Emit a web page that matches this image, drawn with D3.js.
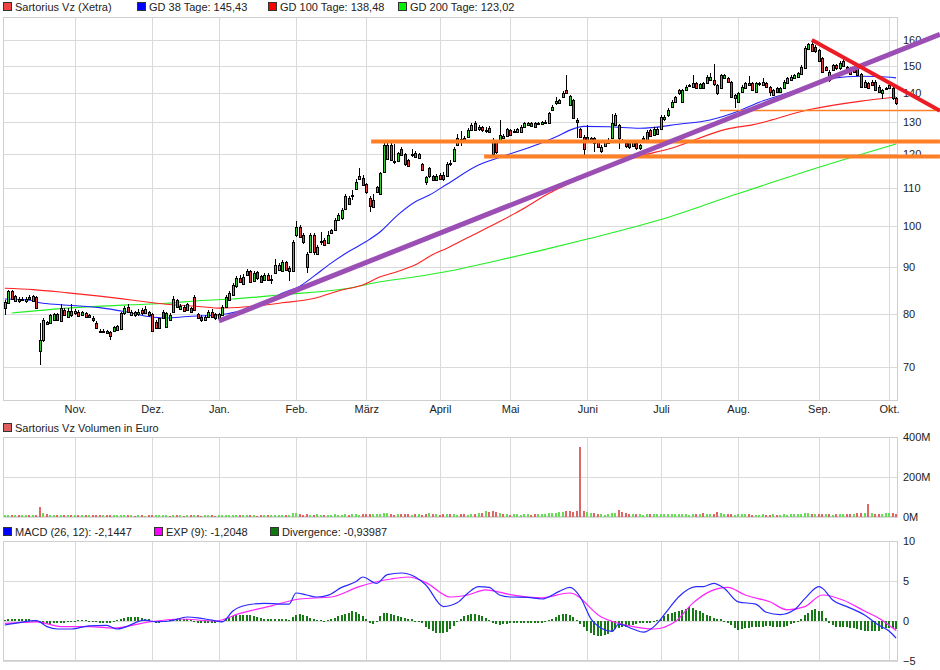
<!DOCTYPE html>
<html><head><meta charset="utf-8">
<script src="https://cdn.jsdelivr.net/npm/d3@7"></script>
<style>
html,body{margin:0;padding:0;background:#fff;}
svg{display:block;font-family:"Liberation Sans",Arial,sans-serif;}
</style></head><body>
<svg id="c" width="940" height="670"></svg>
<script>
// ---------- DATA ----------
const monthLabels = ["Nov.","Dez.","Jan.","Feb.","März","April","Mai","Juni","Juli","Aug.","Sep.","Okt."];
const monthStartIdx = [20,42,61,83,103,124,144,166,187,209,232,252];
const priceTicks = [70,80,90,100,110,120,130,140,150,160];
const volumeTicks = [0,200,400];
const macdTicks = [-5,0,5,10];

const open = [
81.2,82.2,84.7,82.7,83.2,83.0,82.6,83.6,82.6,83.6,
72.8,74.9,78.0,78.3,78.8,80.0,78.7,80.8,79.5,80.7,
80.2,80.4,79.8,80.2,79.8,79.3,78.2,76.7,76.7,76.6,
76.5,76.6,76.9,77.1,80.2,81.5,79.8,80.4,80.0,80.8,
80.2,80.4,80.0,78.5,77.3,80.4,77.5,78.8,80.5,82.9,
81.1,81.5,80.8,81.2,83.6,80.0,79.5,78.8,79.5,80.4,
80.0,79.3,79.8,81.5,82.9,84.0,85.8,87.6,86.4,88.3,
89.1,87.0,88.9,88.0,87.1,88.4,87.3,88.8,89.5,89.3,
91.3,89.3,89.1,97.7,99.8,97.8,90.2,93.7,97.8,93.1,
96.3,96.5,95.7,98.3,98.9,101.5,101.9,104.3,107.4,108.1,
109.8,112.5,113.0,111.1,107.4,104.9,109.0,108.5,114.7,118.4,
122.7,117.4,117.8,121.5,119.8,118.1,119.8,120.1,118.6,116.8,
111.7,115.7,113.3,112.3,113.7,113.7,113.5,117.3,117.9,122.7,
124.5,124.8,125.3,127.4,129.6,127.6,128.3,127.5,128.0,120.0,
123.5,123.8,125.0,125.6,127.4,127.2,126.9,126.9,128.5,129.1,
129.8,129.8,129.6,129.4,130.1,129.8,134.1,136.4,136.6,138.6,
141.0,135.8,137.5,130.7,127.6,125.3,125.1,124.8,124.8,123.8,
120.7,122.4,123.3,124.8,129.1,129.1,124.3,123.3,123.8,122.5,
123.3,121.7,124.8,124.3,127.4,125.8,126.3,127.9,130.9,132.2,
135.2,136.9,139.8,136.9,141.0,142.7,142.2,143.4,141.6,143.4,
143.4,144.6,144.6,139.8,141.6,145.2,145.2,144.0,138.1,136.9,
140.4,141.6,143.4,143.4,140.4,143.3,142.8,143.4,142.2,139.2,
141.6,140.4,141.6,143.4,144.6,145.4,145.8,146.8,149.0,156.6,
158.3,157.4,156.0,152.7,149.6,144.6,148.3,150.2,148.9,149.9,
149.6,148.9,148.9,148.9,146.7,142.2,143.4,144.0,144.0,142.2,
139.8,141.7,141.6,141.6,138.1];
const high = [
82.8,85.0,85.0,84.0,83.6,83.5,83.6,84.0,84.0,83.8,
78.3,79.3,78.7,80.0,80.3,80.2,82.0,81.3,81.2,82.0,
81.0,80.8,80.7,80.5,80.1,79.6,78.6,77.0,77.0,76.9,
76.7,77.7,77.9,80.4,81.6,82.0,80.8,80.7,81.0,81.3,
81.6,80.6,80.2,78.8,79.3,80.8,80.5,80.2,83.8,83.2,
82.0,81.9,82.3,81.5,84.0,80.3,79.8,79.8,80.9,81.0,
80.3,80.3,81.8,84.0,84.8,86.5,88.0,88.2,88.5,89.6,
89.5,89.2,89.3,88.3,88.8,88.8,88.3,92.0,91.0,91.8,
91.6,90.3,96.5,101.2,100.2,98.2,93.5,98.3,98.2,95.3,
98.5,97.0,98.8,99.2,102.0,103.3,104.5,108.5,107.8,109.5,
112.5,115.7,113.6,111.5,107.8,108.3,110.6,114.6,123.3,124.0,
123.5,123.0,120.5,122.0,120.2,118.5,121.5,120.8,120.3,117.3,
113.5,116.0,113.7,114.0,114.2,114.5,117.5,118.0,122.0,126.0,
127.0,125.5,128.2,129.8,130.3,129.0,128.8,128.5,128.6,124.8,
124.0,130.7,126.3,128.0,127.8,127.8,128.0,129.0,130.1,130.2,
130.2,130.0,130.0,130.3,130.6,133.3,135.6,138.6,138.0,140.5,
146.4,139.3,138.0,131.3,128.0,125.7,129.1,125.3,125.2,124.2,
122.6,124.2,124.8,132.8,133.0,129.5,124.7,123.8,124.4,124.0,
123.8,123.1,125.5,127.4,127.9,128.4,128.5,132.3,132.5,134.6,
137.4,139.0,141.5,141.4,142.8,143.3,146.5,143.9,143.5,143.8,
146.3,147.1,150.4,143.2,147.0,147.0,145.6,144.4,139.6,140.3,
142.7,143.9,146.0,143.8,143.9,144.0,145.2,143.9,142.6,141.5,
142.0,142.0,144.5,145.8,146.4,147.0,147.6,150.2,157.5,158.8,
160.2,158.0,156.5,153.2,150.0,148.2,150.6,150.6,151.6,152.6,
150.0,149.3,149.4,149.3,147.2,144.5,143.9,144.6,144.5,142.7,
141.5,142.2,143.5,142.0,138.6];
const low = [
79.8,82.0,82.9,82.5,82.2,82.6,82.3,82.8,82.4,81.0,
70.4,74.5,77.8,78.1,78.6,78.6,78.5,79.6,79.3,79.5,
79.9,79.4,79.6,79.2,79.2,78.4,77.1,76.2,76.3,76.0,
74.9,76.4,76.7,77.0,79.9,80.2,79.6,79.5,79.7,79.9,
80.0,79.5,76.4,77.0,77.1,79.0,77.3,78.6,80.3,81.3,
80.9,80.4,80.6,80.3,80.6,78.9,78.5,78.6,79.3,79.2,
78.8,78.9,79.6,81.3,82.7,83.8,85.5,86.5,86.2,88.0,
86.5,86.8,87.3,86.5,86.9,87.0,86.3,88.5,89.2,89.0,
89.2,87.0,88.9,97.3,97.0,95.5,88.7,93.4,93.0,92.8,
95.3,95.0,95.4,98.0,98.6,101.2,101.6,104.0,105.4,106.8,
109.5,112.2,110.5,108.4,103.6,104.6,108.7,108.2,114.4,118.0,
117.8,117.0,117.5,119.3,116.4,116.0,119.0,118.7,118.3,114.8,
111.0,113.0,111.9,112.0,112.3,112.0,113.2,116.2,117.6,122.4,
122.5,123.3,125.0,127.0,127.0,127.2,126.9,126.5,126.5,119.3,
119.8,123.5,124.6,125.3,125.5,126.5,126.5,126.6,128.2,128.8,
128.5,128.2,129.0,129.1,129.8,129.6,133.8,135.8,136.2,138.2,
139.5,135.5,131.0,124.8,124.8,119.6,123.5,123.4,120.6,121.8,
120.3,122.0,122.9,124.5,128.8,121.5,123.2,121.9,121.6,122.0,
121.2,121.2,123.4,124.0,125.1,125.4,126.0,127.6,130.5,131.8,
134.8,136.5,139.4,136.6,140.6,142.2,141.8,141.2,141.2,141.2,
143.0,144.2,142.6,139.3,141.2,144.8,143.6,138.2,134.6,136.5,
140.0,141.2,142.4,140.6,140.0,142.6,142.4,141.8,138.8,138.8,
139.8,140.0,141.2,143.0,144.2,145.0,145.4,146.4,148.6,156.0,
155.2,155.0,151.2,147.2,147.8,144.0,147.9,148.5,148.4,149.5,
147.9,146.3,147.2,146.0,141.8,141.8,141.2,142.3,140.5,139.9,
137.8,141.0,141.2,137.6,135.6];
const close = [
82.5,84.7,83.1,83.8,82.6,83.1,83.2,83.1,83.8,81.2,
74.9,78.8,78.5,79.8,80.0,78.8,81.2,79.8,80.6,79.8,
80.6,79.7,80.4,79.5,79.5,78.8,77.3,76.5,76.5,76.3,
75.7,77.5,77.6,80.2,81.3,80.4,80.5,79.8,80.5,80.2,
81.0,79.8,76.7,77.2,79.1,79.2,80.2,79.8,83.2,81.5,
81.7,80.6,82.0,80.5,80.8,79.1,78.8,79.5,80.5,79.5,
79.1,80.0,81.5,83.6,84.3,86.1,87.7,86.8,87.9,89.1,
86.8,88.7,87.6,86.8,88.3,87.2,87.4,90.6,90.6,91.3,
89.5,89.8,96.1,99.8,97.3,96.1,93.1,97.8,93.5,94.9,
96.1,95.3,97.7,98.9,101.5,102.8,104.1,107.7,105.8,108.0,
111.8,113.5,110.9,108.8,105.2,106.8,110.2,114.2,122.7,122.7,
118.1,117.8,120.1,119.6,116.8,116.4,119.7,119.1,119.8,115.2,
113.1,113.3,112.3,113.5,112.6,112.5,117.0,116.8,121.5,124.8,
124.6,123.8,127.4,129.1,127.4,128.5,127.4,127.4,126.9,124.3,
120.6,125.8,125.6,127.6,125.8,127.1,127.6,128.5,129.6,129.8,
128.8,128.5,129.5,129.9,130.2,132.9,135.2,137.3,137.5,140.0,
139.8,138.9,131.5,130.2,125.3,121.4,123.8,123.8,123.3,122.2,
122.2,123.8,124.3,129.6,132.4,124.8,123.8,122.5,122.2,123.5,
121.7,122.7,123.8,126.8,125.5,127.9,127.9,131.8,131.8,134.1,
136.9,138.6,141.0,141.0,142.2,142.8,143.4,141.6,143.0,141.6,
145.8,145.8,143.1,142.8,146.5,146.5,144.0,138.6,139.2,139.8,
142.2,143.4,142.8,141.0,143.4,143.4,144.0,142.2,140.2,141.0,
140.2,141.6,144.0,145.2,145.8,146.5,147.1,149.6,157.0,158.3,
155.6,155.6,151.7,147.7,148.3,147.7,150.2,148.9,151.1,151.7,
148.3,146.7,147.7,146.5,142.2,144.0,141.6,142.8,141.0,140.4,
141.0,141.5,142.8,138.1,136.3];

// moving averages: [day index, value]
const gd38 = [[0,83.1],[8,82.8],[10,82.3],[16,81.9],[27,81.3],[34,80.5],[41,79.5],[46,79.2],[52,79.5],[58,79.7],[63,80.0],[69,81.0],[75,82.6],[79,84.3],[84,85.8],[88,88.0],[93,91.0],[98,93.7],[103,96.1],[107,98.5],[112,102.8],[117,106.3],[121,108.1],[126,111.1],[135,116.6],[143,119.6],[152,122.9],[157,125.2],[162,127.8],[165,128.6],[172,128.5],[181,128.0],[192,129.3],[201,130.7],[209,133.6],[215,136.7],[225,140.7],[231,143.5],[236,145.3],[244,146.0],[249,145.9],[254,145.4]];
const gd100 = [[0,85.4],[8,85.1],[18,84.4],[27,83.7],[36,82.9],[46,82.0],[56,81.5],[61,81.2],[69,81.5],[79,82.3],[88,83.2],[96,85.0],[102,86.1],[107,87.9],[112,89.1],[117,90.6],[122,93.0],[126,94.5],[132,97.1],[141,101.1],[147,104.0],[155,108.5],[162,111.8],[169,115.2],[181,119.3],[190,121.7],[206,127.8],[213,129.1],[229,134.1],[244,137.1],[254,138.5]];
const gd200 = [[2,80.2],[18,81.2],[36,81.9],[46,82.2],[56,82.8],[65,83.1],[79,84.0],[98,85.4],[107,86.8],[117,87.9],[126,89.1],[141,91.7],[152,93.8],[166,96.7],[187,101.6],[209,108.5],[230,115.3],[254,123.0]];

// volume in million euro
const volume = [
12,10,9,8,9,8,10,9,8,12, 52,22,14,10,12,9,12,8,10,9,
9,8,10,9,8,8,10,9,8,9, 8,9,10,12,9,8,8,7,8,9,
7,8,9,10,8,9,8,7,10,9, 8,7,8,9,10,8,7,8,9,8,
6,8,10,9,11,12,10,9,8,10, 9,8,7,9,8,10,9,12,11,10,
9,10,18,20,14,12,16,12,11,13, 10,11,12,10,13,12,11,14,12,13,
14,12,15,13,14,15,13,16,20,18, 14,12,13,15,14,13,12,14,13,12,
15,18,14,13,12,14,15,13,14,12, 13,14,12,15,16,18,22,28,26,30,
24,20,16,14,12,13,15,12,13,14, 12,15,13,14,16,18,20,22,24,25,
28,30,26,32,350,30,26,22,18,16, 14,12,15,18,20,36,24,18,16,15,
14,13,12,14,16,15,14,13,14,15, 16,14,15,13,14,12,13,14,15,18,
16,14,15,26,18,16,14,13,12,14, 16,14,13,12,11,12,13,11,12,14,
12,11,13,12,14,15,13,16,20,18, 15,14,16,13,15,14,12,13,14,15,
14,13,15,18,20,22,66,18,15,14, 16,20,18,22,14];

// MACD lines: [day index, value]
const macdLine = [[0,-0.5],[4,-0.2],[9,0.05],[12,-0.7],[15,-1.0],[19,-1.0],[24,-0.6],[29,-0.55],[32,-1.0],[40,0.1],[43,-0.1],[47,0.0],[52,0.5],[55,0.4],[59,0.1],[62,-0.1],[65,1.25],[69,2.0],[74,2.2],[81,2.1],[83,3.5],[86,3.25],[89,3.0],[92,3.2],[96,4.2],[100,4.9],[102,5.5],[106,4.7],[109,5.8],[113,6.0],[117,5.5],[120,4.5],[125,1.8],[129,2.3],[132,3.5],[135,4.3],[138,4.2],[141,3.25],[144,3.0],[149,2.95],[153,2.75],[158,3.7],[161,4.2],[164,3.0],[167,0.3],[170,-0.9],[173,-1.3],[175,-0.4],[179,-1.0],[182,-1.4],[185,-0.7],[189,1.4],[192,3.0],[197,4.3],[199,4.3],[202,4.7],[205,4.1],[209,2.4],[214,2.1],[217,1.1],[221,0.8],[225,1.4],[228,2.8],[232,4.3],[233,4.1],[236,2.6],[240,1.8],[245,0.75],[249,-0.5],[252,-1.25],[254,-2.14]];
const expLine = [[0,-0.3],[9,-0.1],[16,-0.7],[24,-0.7],[31,-0.9],[40,-0.2],[50,0.25],[60,0.0],[67,0.95],[76,1.9],[84,2.75],[93,3.0],[101,4.3],[110,5.25],[115,5.5],[120,4.8],[127,3.0],[132,3.25],[137,3.9],[144,3.3],[153,2.9],[161,3.5],[170,0.5],[179,-0.7],[185,-1.0],[191,-0.1],[196,2.2],[201,3.7],[206,4.2],[211,3.25],[218,2.4],[223,1.4],[228,1.8],[233,3.25],[239,2.6],[245,1.25],[250,0.1],[254,-1.2]];
const divergence = [
0.1,0.2,0.3,0.3,0.3,0.3,0.2,0.2,0.1,0.0,
-0.3,-0.4,-0.4,-0.4,-0.3,-0.3,-0.2,-0.2,-0.1,-0.1,
0.0,0.1,0.1,0.1,0.0,-0.1,-0.1,-0.2,-0.2,-0.3,-0.3,
-0.1,0.1,0.3,0.4,0.5,0.5,0.5,0.5,0.4,0.3,0.3,
0.0,-0.2,-0.2,-0.1,0.0,0.1,0.2,0.3,0.3,0.2,
0.2,0.1,0.0,-0.2,-0.3,-0.3,-0.3,-0.2,-0.2,-0.1,0.0,
0.2,0.4,0.6,0.7,0.8,0.8,0.8,0.7,0.6,0.5,0.4,0.3,0.3,0.2,0.3,
0.3,0.2,0.2,0.1,0.5,0.8,0.9,
0.7,0.6,0.4,0.2,0.1,0.1,0.0,0.1,0.2,
0.4,0.6,0.8,0.9,1.0,1.2,1.1,0.9,0.6,0.3,-0.2,
-0.4,0.0,0.6,1.0,1.0,0.9,0.7,0.6,
0.5,0.4,0.3,0.2,0.0,-0.1,
-0.3,-0.7,-1.0,-1.3,-1.5,-1.5,-1.5,-1.4,-1.0,-0.6,-0.1,0.3,
0.6,0.8,0.9,0.9,0.8,0.6,0.4,0.1,
-0.2,-0.4,-0.5,-0.4,-0.4,-0.3,-0.3,-0.2,-0.2,-0.3,-0.3,-0.3,-0.2,-0.2,
-0.2,-0.1,0.1,0.3,0.5,0.7,
0.9,0.9,0.8,0.5,0.1,
-0.4,-0.8,-1.2,-1.5,-1.8,-1.9,-1.9,-1.8,-1.6,-1.3,-1.0,-0.9,-0.8,-0.7,-0.6,-0.5,-0.4,
-0.3,-0.3,-0.3,-0.2,-0.1,
0.1,0.3,0.6,0.9,1.0,1.1,1.3,1.4,1.5,1.7,1.6,1.4,1.2,1.0,0.8,
0.6,0.4,0.3,0.2,0.0,-0.2,
-0.5,-0.9,-1.1,-1.0,-0.9,-0.9,-0.8,-0.8,-0.7,-0.7,-0.6,-0.6,-0.7,-0.7,-0.8,-0.7,-0.6,-0.4,-0.2,0.0,
0.3,0.7,1.0,1.4,1.5,1.3,1.2,
0.4,-0.2,-0.5,-0.7,-0.7,-0.8,-0.8,-0.9,-0.9,-1.0,-1.1,-1.2,-1.3,-1.3,-1.2,-1.2,-1.0,-0.9,-0.9,-0.9,-0.94];

// drawn annotations: [day index, price]
const trendLines = [
  {from:[61,78.6], to:[266.5,162.3], color:"#9b4fb4", width:5},
  {from:[230,160.0], to:[266.5,133.8], color:"#ec1c24", width:4}
];
const levelLines = [
  {price:123.8, fromIdx:104.4, toIdx:266.5, width:4},
  {price:119.2, fromIdx:136.6, toIdx:266.5, width:4},
  {price:133.9, fromIdx:203.8, toIdx:266.5, width:1.5}
];

const legendMain = [
  {label:"Sartorius Vz (Xetra)", color:"#ee4444", x:3},
  {label:"GD 38 Tage: 145,43", color:"#0000ff", x:137},
  {label:"GD 100 Tage: 138,48", color:"#ff0000", x:268},
  {label:"GD 200 Tage: 123,02", color:"#00ee00", x:398}
];
const legendVol = [{label:"Sartorius Vz Volumen in Euro", color:"#e06060", x:3}];
const legendMacd = [
  {label:"MACD (26, 12): -2,1447", color:"#0000ff", x:3},
  {label:"EXP (9): -1,2048", color:"#ff00ff", x:154},
  {label:"Divergence: -0,93987", color:"#117711", x:270}
];

// ---------- DRAW ----------
const svg = d3.select("#c");
svg.append("rect").attr("width",940).attr("height",670).attr("fill","#fff");
const L = 3, R = 898;
const P = {main:[17,401], vol:[437,517], macd:[541,661]};
const x = d3.scaleLinear().domain([0,252]).range([4.8, 889.07]);
const yP = d3.scaleLog().domain([64.2,169.6]).range([P.main[1],P.main[0]]);
const yV = d3.scaleLinear().domain([0,400]).range([P.vol[1],P.vol[0]]);
const yM = d3.scaleLinear().domain([-5,10]).range([P.macd[1],P.macd[0]]);
const px = v => Math.round(v)+0.5;
const gridColor = "#dadada";

function panel(top,bottom,yScale,ticks){
  const g = svg.append("g");
  g.append("g").selectAll("line").data(monthStartIdx).join("line")
    .attr("x1",d=>px(x(d))).attr("x2",d=>px(x(d))).attr("y1",top).attr("y2",bottom)
    .attr("stroke",gridColor).attr("stroke-width",1);
  g.append("g").selectAll("line").data(ticks).join("line")
    .attr("x1",L).attr("x2",R).attr("y1",d=>px(yScale(d))).attr("y2",d=>px(yScale(d)))
    .attr("stroke",gridColor).attr("stroke-width",1);
  g.append("rect").attr("x",L+0.5).attr("y",top+0.5).attr("width",R-L-1).attr("height",bottom-top-1)
    .attr("fill","none").attr("stroke","#cfcfcf");
}
panel(P.main[0],P.main[1],yP,priceTicks);
panel(P.vol[0],P.vol[1],yV,volumeTicks);
panel(P.macd[0],P.macd[1],yM,macdTicks);

function styleAxis(g){
  g.select(".domain").remove();
  g.selectAll("text").attr("font-family","'Liberation Sans',Arial,sans-serif").attr("font-size",11).attr("fill","#222");
}
// right axes
svg.append("g").attr("transform",`translate(${R+3},0)`)
  .call(d3.axisRight(yP).tickValues(priceTicks).tickSize(0).tickPadding(2).tickFormat(d3.format("d"))).call(styleAxis);
svg.append("g").attr("transform",`translate(${R+3},0)`)
  .call(d3.axisRight(yV).tickValues(volumeTicks).tickSize(0).tickPadding(2).tickFormat(d=>d+"M")).call(styleAxis);
svg.append("g").attr("transform",`translate(${R+3},0)`)
  .call(d3.axisRight(yM).tickValues(macdTicks).tickSize(0).tickPadding(2).tickFormat(d3.format("d"))).call(styleAxis);
// month axis
svg.append("g").attr("transform",`translate(0,${P.main[1]})`)
  .call(d3.axisBottom(x).tickValues(monthStartIdx).tickSize(0).tickPadding(4).tickFormat((d,i)=>monthLabels[i])).call(styleAxis);

// legends
function legend(items,y){
  const g = svg.append("g");
  items.forEach(it=>{
    g.append("rect").attr("x",it.x+0.5).attr("y",y-4.5).attr("width",8).attr("height",8)
      .attr("fill",it.color).attr("stroke","#333").attr("stroke-width",1);
    g.append("text").attr("x",it.x+12).attr("y",y+4).attr("font-size",11).attr("fill","#222").text(it.label);
  });
}
legend(legendMain,7);
legend(legendVol,428);
legend(legendMacd,532);

// moving averages
const maLine = d3.line().x(d=>x(d[0])).y(d=>yP(d[1])).curve(d3.curveMonotoneX);
[[gd200,"#22ee22"],[gd100,"#ff2222"],[gd38,"#2222ff"]].forEach(([data,c])=>{
  svg.append("path").attr("d",maLine(data)).attr("fill","none").attr("stroke",c).attr("stroke-width",1.1);
});

// candles
const days = d3.range(close.length);
const cg = svg.append("g").attr("shape-rendering","crispEdges");
cg.selectAll("line").data(days).join("line")
  .attr("x1",i=>Math.round(x(i))+0.5).attr("x2",i=>Math.round(x(i))+0.5)
  .attr("y1",i=>Math.round(yP(high[i]))).attr("y2",i=>Math.round(yP(low[i])))
  .attr("stroke","#000").attr("stroke-width",1);
cg.selectAll("rect").data(days).join("rect")
  .attr("x",i=>Math.round(x(i))-0.5)
  .attr("y",i=>Math.round(yP(Math.max(open[i],close[i])))+0.5)
  .attr("width",2)
  .attr("height",i=>Math.max(1,Math.round(yP(Math.min(open[i],close[i])))-Math.round(yP(Math.max(open[i],close[i])))))
  .attr("fill",i=>close[i]>=open[i]?"#33cc33":"#e03a3a")
  .attr("stroke","#000").attr("stroke-width",1);

// volume
svg.append("g").attr("shape-rendering","crispEdges").selectAll("rect").data(days).join("rect")
  .attr("x",i=>Math.round(x(i))-1).attr("width",2)
  .attr("y",i=>Math.round(yV(volume[i]))).attr("height",i=>Math.round(yV(0))-Math.round(yV(volume[i])))
  .attr("fill",i=>(i>0 && close[i]<close[i-1])?"#e06666":"#66dd55");

// MACD
svg.append("g").attr("shape-rendering","crispEdges").selectAll("rect").data(days).join("rect")
  .attr("x",i=>Math.round(x(i))-1).attr("width",2)
  .attr("y",i=>Math.round(yM(Math.max(0,divergence[i]))))
  .attr("height",i=>Math.max(1,Math.abs(Math.round(yM(divergence[i]))-Math.round(yM(0)))))
  .attr("fill","#177a17");
const mLine = d3.line().x(d=>x(d[0])).y(d=>yM(d[1])).curve(d3.curveMonotoneX);
svg.append("path").attr("d",mLine(expLine)).attr("fill","none").attr("stroke","#ff22ff").attr("stroke-width",1.2);
svg.append("path").attr("d",mLine(macdLine)).attr("fill","none").attr("stroke","#2a2aff").attr("stroke-width",1.2);

// annotations
levelLines.forEach(l=>{
  svg.append("line").attr("x1",x(l.fromIdx)).attr("x2",x(l.toIdx))
    .attr("y1",yP(l.price)).attr("y2",yP(l.price))
    .attr("stroke","#ff7f27").attr("stroke-width",l.width);
});
trendLines.forEach(t=>{
  svg.append("line").attr("x1",x(t.from[0])).attr("y1",yP(t.from[1]))
    .attr("x2",x(t.to[0])).attr("y2",yP(t.to[1]))
    .attr("stroke",t.color).attr("stroke-width",t.width);
});
</script>
</body></html>
